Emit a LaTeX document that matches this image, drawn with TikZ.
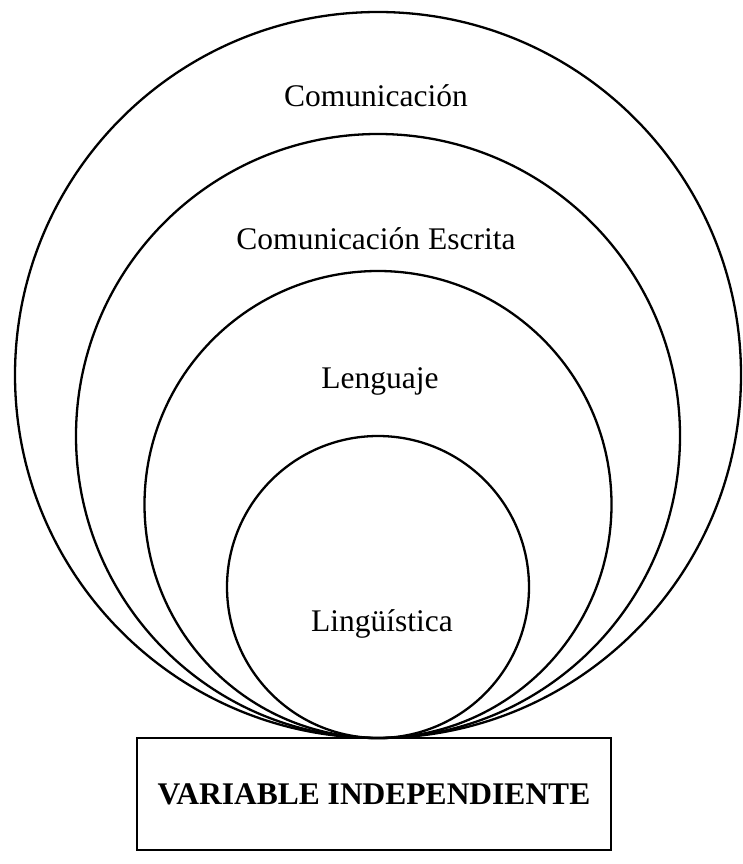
\documentclass[tikz,border=0pt]{standalone}
\usepackage{fontspec}
\setmainfont{Liberation Serif}
\begin{document}
\begin{tikzpicture}[x=1pt,y=-1pt,
  ring/.style={circle,draw=black,line width=2.3pt,inner sep=0pt,outer sep=0pt},
  lbl/.style={font=\fontsize{31.5}{38}\selectfont,inner sep=0pt,anchor=center},
  varbox/.style={draw=black,line width=2.3pt,inner sep=0pt,minimum width=474pt,minimum height=112pt,font=\fontsize{31.5}{38}\selectfont\bfseries}]
  \useasboundingbox (0,0) rectangle (743,864);
  \node[ring,minimum size=726pt] (c1) at (378,375) {};
  \node[ring,minimum size=604pt] (c2) at (378,436) {};
  \node[ring,minimum size=467pt] (c3) at (378,504.5) {};
  \node[ring,minimum size=302pt] (c4) at (378,587) {};
  \node[lbl] (t1) at (376,96) {Comunicación};
  \node[lbl] (t2) at (376,239) {Comunicación Escrita};
  \node[lbl] (t3) at (380,381) {Lenguaje};
  \node[lbl] (t4) at (382,624) {Lingüística};
  \node[varbox] (vb) at (374,794) {VARIABLE INDEPENDIENTE};
\end{tikzpicture}
\end{document}
